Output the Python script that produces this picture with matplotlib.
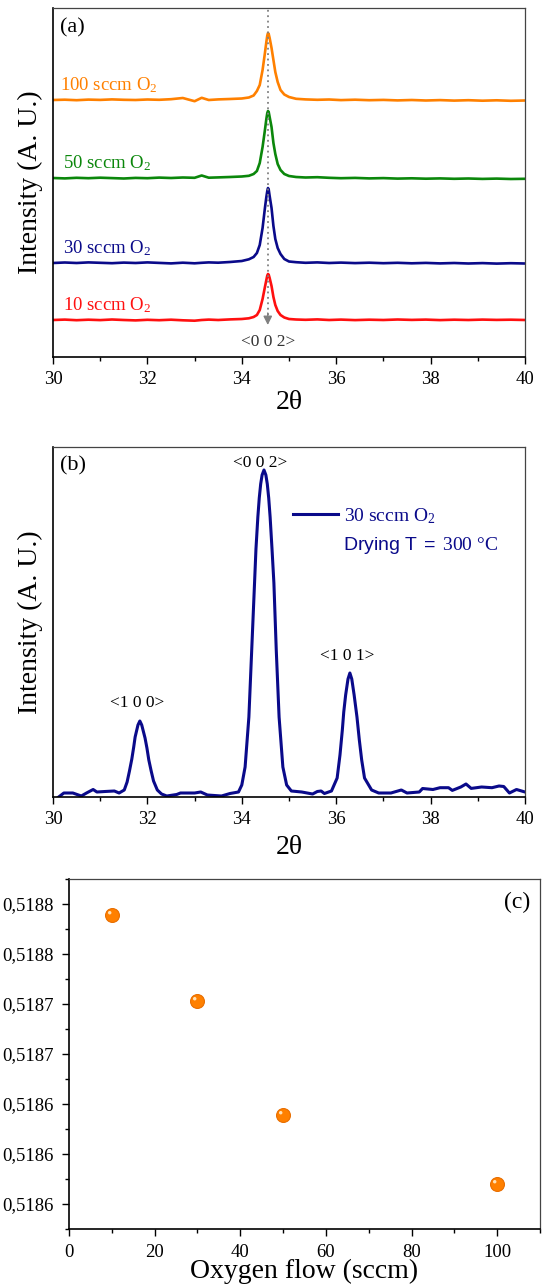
import matplotlib
matplotlib.use("Agg")
import matplotlib.pyplot as plt
from matplotlib.ticker import MultipleLocator, FuncFormatter, NullLocator
from matplotlib.path import Path

plt.rcParams['font.family'] = ['Liberation Serif', 'DejaVu Serif']
plt.rcParams['mathtext.fontset'] = 'custom'
plt.rcParams['mathtext.rm'] = 'Liberation Serif'
plt.rcParams['mathtext.it'] = 'Liberation Serif:italic'
plt.rcParams['mathtext.sf'] = 'Liberation Sans'

# ---- (a) XRD patterns, stacked ----
two_theta_a = [30.0, 30.25, 30.5, 30.75, 31.0, 31.25, 31.5, 31.75, 32.0, 32.25,
               32.5, 32.75, 33.0, 33.15, 33.3, 33.5, 33.75, 34.0, 34.15, 34.25,
               34.32, 34.38, 34.44, 34.49, 34.52, 34.54, 34.555, 34.57, 34.59, 34.63,
               34.67, 34.71, 34.76, 34.82, 34.9, 35.0, 35.15, 35.35, 35.6, 35.85,
               36.1, 36.4, 36.7, 37.0, 37.3, 37.6, 37.9, 38.2, 38.5, 38.8,
               39.1, 39.4, 39.7, 40.0]
int_100sccm = [255.0, 255.3, 254.8, 255.4, 255.1, 255.6, 255.2, 255.0, 255.5, 255.2,
               255.8, 257.0, 253.8, 257.2, 255.0, 255.6, 256.0, 256.5, 257.5, 259.5,
               264.0, 270.0, 285.0, 302.0, 313.0, 319.5, 322.0, 321.0, 317.0, 307.0,
               295.0, 283.0, 273.0, 265.0, 260.5, 258.0, 256.2, 255.6, 255.2, 255.5,
               254.9, 255.3, 254.8, 255.1, 254.6, 255.0, 254.5, 254.9, 254.4, 254.8,
               254.3, 254.7, 254.2, 254.5]
int_50sccm = [177.0, 176.6, 177.2, 176.8, 177.3, 176.9, 176.5, 177.1, 176.8, 177.4,
              177.0, 177.5, 177.2, 179.5, 177.3, 177.6, 178.0, 178.5, 179.2, 181.0,
              184.0, 192.0, 208.0, 225.0, 236.0, 242.0, 244.0, 243.0, 238.0, 228.0,
              212.0, 201.0, 191.0, 185.0, 181.0, 179.0, 178.0, 177.5, 177.8, 177.2,
              176.8, 177.1, 176.6, 176.9, 176.4, 176.7, 176.3, 176.6, 176.2, 176.5,
              176.1, 176.4, 176.0, 176.2]
int_30sccm = [92.0, 92.5, 92.0, 92.6, 92.2, 91.8, 92.4, 92.0, 92.6, 92.1,
              91.6, 92.3, 91.7, 92.2, 92.6, 92.3, 93.0, 94.0, 95.7, 98.0,
              102.0, 110.0, 127.0, 147.0, 158.0, 164.0, 167.0, 165.5, 159.0, 147.0,
              129.0, 116.0, 107.0, 101.0, 96.0, 93.5, 92.8, 92.2, 92.6, 92.0,
              92.4, 91.9, 92.3, 91.8, 92.2, 91.7, 92.1, 91.6, 92.0, 91.5,
              91.9, 91.4, 91.8, 91.5]
int_10sccm = [35.0, 35.4, 34.8, 35.3, 34.9, 35.5, 35.0, 34.6, 35.2, 34.8,
              35.3, 34.7, 34.3, 35.0, 35.4, 35.0, 35.6, 36.0, 36.7, 38.0,
              40.0, 45.0, 56.0, 68.0, 75.0, 79.5, 81.0, 80.3, 77.0, 69.0,
              58.0, 50.0, 44.0, 40.0, 37.5, 36.0, 35.5, 35.2, 35.6, 35.0,
              35.4, 34.9, 35.3, 35.0, 35.5, 35.1, 35.4, 34.9, 35.3, 35.0,
              35.4, 35.1, 35.3, 35.0]
labels_a = ['100 sccm O$_2$', '50 sccm O$_2$', '30 sccm O$_2$', '10 sccm O$_2$']
peak_002_a = 34.55

# ---- (b) single pattern, 30 sccm O2 dried at 300 C ----
two_theta_b = [30.12, 30.23, 30.42, 30.6, 30.71, 30.85, 30.93, 31.1, 31.3, 31.4,
               31.51, 31.57, 31.62, 31.67, 31.71, 31.74, 31.8, 31.84, 31.88, 31.95,
               31.99, 32.03, 32.08, 32.13, 32.21, 32.3, 32.41, 32.62, 32.7, 33.0,
               33.13, 33.27, 33.57, 33.75, 33.93, 34.0, 34.07, 34.15, 34.21, 34.27,
               34.3, 34.34, 34.37, 34.4, 34.43, 34.47, 34.51, 34.54, 34.57, 34.6,
               34.64, 34.68, 34.73, 34.79, 34.87, 34.95, 35.05, 35.27, 35.5, 35.6,
               35.68, 35.75, 35.9, 36.02, 36.08, 36.13, 36.16, 36.2, 36.25, 36.29,
               36.33, 36.38, 36.44, 36.49, 36.54, 36.6, 36.75, 36.9, 37.16, 37.38,
               37.5, 37.76, 37.83, 38.05, 38.2, 38.38, 38.46, 38.64, 38.75, 38.86,
               39.08, 39.3, 39.45, 39.55, 39.67, 39.82, 40.0]
int_b = [0.0, 4.0, 4.0, 1.0, 4.0, 7.5, 5.0, 5.5, 6.0, 4.0,
         7.0, 15.0, 26.0, 38.0, 50.0, 60.0, 72.0, 76.0, 72.0, 59.0,
         49.0, 37.0, 26.0, 16.0, 7.0, 3.0, 1.0, 2.5, 4.0, 4.0,
         5.0, 2.0, 1.0, 3.5, 5.0, 12.0, 30.0, 80.0, 147.0, 214.0,
         248.0, 280.0, 299.0, 313.0, 322.0, 327.0, 322.0, 313.0, 299.0, 280.0,
         248.0, 214.0, 147.0, 80.0, 30.0, 12.0, 6.0, 5.0, 3.0, 5.5,
         6.0, 3.5, 6.0, 19.0, 42.0, 67.0, 85.0, 102.0, 118.0, 124.0,
         118.0, 102.0, 80.0, 57.0, 37.0, 19.0, 7.0, 4.0, 4.0, 7.0,
         4.0, 5.0, 8.5, 7.5, 9.3, 9.3, 6.6, 10.0, 13.0, 8.6,
         10.0, 9.3, 11.0, 10.5, 4.0, 7.5, 5.0]
peaks_b = ['<1 0 0>', '<0 0 2>', '<1 0 1>']

# ---- (c) lattice parameter vs oxygen flow ----
oxygen_flow = [10, 30, 50, 100]
lattice_c = [0.518791, 0.518722, 0.518631, 0.518576]

orange = '#FF8000'
green = '#0B870B'
navy = '#0A0A8A'
red = '#FF1010'

fig = plt.figure(figsize=(5.42, 12.87), dpi=100)
W, H = 542.0, 1287.0


def style_xrd_axes(ax):
    ax.set_xlim(30, 40)
    ax.xaxis.set_major_locator(MultipleLocator(2))
    ax.xaxis.set_minor_locator(MultipleLocator(1))
    ax.yaxis.set_major_locator(NullLocator())
    ax.yaxis.set_minor_locator(NullLocator())
    ax.tick_params(axis='x', which='major', direction='out', length=5, width=1, labelsize=13.5, pad=5)
    ax.tick_params(axis='x', which='minor', direction='out', length=3, width=1)
    for s in ['left', 'bottom']:
        ax.spines[s].set_linewidth(1.2)
        ax.spines[s].set_color('black')
    for s in ['top', 'right']:
        ax.spines[s].set_linewidth(0.9)
        ax.spines[s].set_color('#444444')
    ax.set_xlabel('2θ', fontsize=20, va='top')
    ax.xaxis.set_label_coords(0.5, -0.095)
    ax.set_ylabel('Intensity (A. U.)', fontsize=20)
    ax.yaxis.set_label_coords(-0.022, 0.5)


# ---------------- panel (a) ----------------
ax_a = fig.add_axes([53 / W, 1 - 357 / H, 472 / W, 349 / H])
style_xrd_axes(ax_a)
ax_a.set_ylim(-2, 347)
curves_a = [int_100sccm, int_50sccm, int_30sccm, int_10sccm]
colors_a = [orange, green, navy, red]
label_y_a = [265, 187, 102, 45]
label_x_a = [30.15, 30.21, 30.21, 30.21]
for ys, c, lab, lx, ly in zip(curves_a, colors_a, labels_a, label_x_a, label_y_a):
    ax_a.plot(two_theta_a, ys, color=c, lw=1.9)
    ax_a.text(lx, ly, lab, color=c, fontsize=13.5, va='baseline', ha='left')

ax_a.plot([peak_002_a, peak_002_a], [40, 347], color='#808080', lw=1.3, ls=(0, (1, 2)))
ax_a.annotate('', xy=(peak_002_a, 30), xytext=(peak_002_a, 42),
              arrowprops=dict(arrowstyle='-|>', color='#808080', lw=1.0,
                              mutation_scale=13, shrinkA=0, shrinkB=0))
ax_a.text(peak_002_a, 13, '<0 0 2>', color='#333333', fontsize=12.5, ha='center', va='center')
ax_a.text(0.015, 0.943, '(a)', transform=ax_a.transAxes, fontsize=16, va='center', ha='left')

# ---------------- panel (b) ----------------
ax_b = fig.add_axes([53 / W, 1 - 797 / H, 472 / W, 350 / H])
style_xrd_axes(ax_b)
ax_b.set_ylim(0, 350)
ax_b.xaxis.set_label_coords(0.5, -0.11)
ax_b.plot(two_theta_b, int_b, color=navy, lw=2.2, label='30 sccm O$_2$')
peak_label_pos = [(31.78, 94), (34.39, 334), (36.23, 141)]
for lab, (px, py) in zip(peaks_b, peak_label_pos):
    ax_b.text(px, py, lab, fontsize=12.5, ha='center', va='center')
leg = ax_b.legend(loc='center left', bbox_to_anchor=((293 - 53) / 472, (797 - 516) / 350),
                  frameon=False, fontsize=14, handlelength=2.3, handletextpad=0.3,
                  borderpad=0, borderaxespad=0)
for t in leg.get_texts():
    t.set_color(navy)
ax_b.text((343 - 53) / 472, (797 - 545) / 350, r'$\mathsf{Drying\ T\ {=}\ }$300 °C',
          transform=ax_b.transAxes, color=navy, fontsize=14, va='center', ha='left')
ax_b.text(0.015, 0.946, '(b)', transform=ax_b.transAxes, fontsize=16, va='center', ha='left')

# ---------------- panel (c) ----------------
ax_c = fig.add_axes([69 / W, 1 - 1229 / H, 471 / W, 350 / H])
ax_c.set_xlim(0, 110)
ax_c.set_ylim(0.51854, 0.51882)
ax_c.xaxis.set_major_locator(MultipleLocator(20))
ax_c.xaxis.set_minor_locator(MultipleLocator(10))
ax_c.yaxis.set_major_locator(MultipleLocator(0.00004))
ax_c.yaxis.set_minor_locator(MultipleLocator(0.00002))
ax_c.yaxis.set_major_formatter(FuncFormatter(lambda v, p: f'{v:.4f}'.replace('.', ',')))
ax_c.tick_params(which='major', direction='out', length=5, width=1, labelsize=13.5, pad=6)
ax_c.tick_params(which='minor', direction='out', length=3, width=1)
for s in ['left', 'bottom']:
    ax_c.spines[s].set_linewidth(1.2)
for s in ['top', 'right']:
    ax_c.spines[s].set_linewidth(0.9)
    ax_c.spines[s].set_color('#444444')
ax_c.set_xlabel('Oxygen flow (sccm)', fontsize=20, va='top')
ax_c.xaxis.set_label_coords(0.5, -0.085)

# glossy orange spheres: body + small highlight up-left
ax_c.plot(oxygen_flow, lattice_c, ls='none', marker='o', markersize=10,
          mfc='#FF8000', mec='#E86E00', mew=0.8)
shine = Path.circle(center=(-0.4, 0.4), radius=0.25)
ax_c.plot(oxygen_flow, lattice_c, ls='none', marker=shine, markersize=6.5,
          mfc='#FFE2B8', mec='none')
ax_c.text(0.979, 0.934, '(c)', transform=ax_c.transAxes, fontsize=17, va='center', ha='right')

fig.savefig('out.png', dpi=100)
